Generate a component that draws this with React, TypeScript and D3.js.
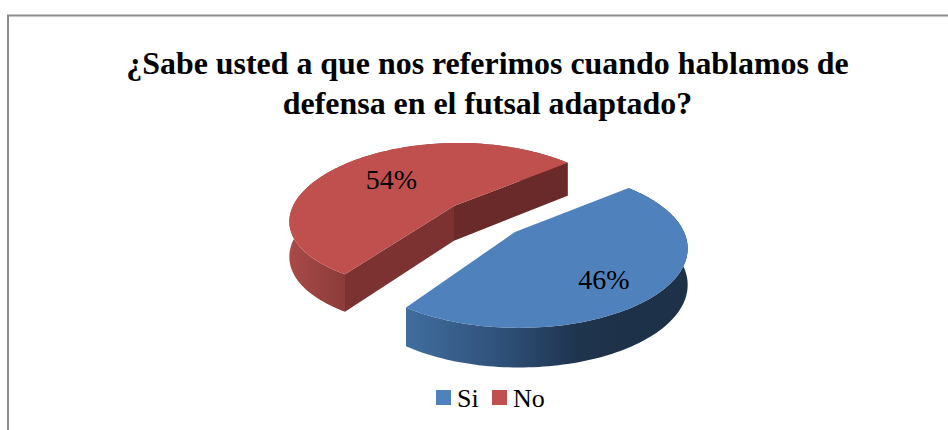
import React from "react";
import * as d3 from "d3";

const categories = ["Si", "No"];
const seriesValues = [46, 54];
const titleLines = [
  "¿Sabe usted a que nos referimos cuando hablamos de",
  "defensa en el futsal adaptado?",
];

const W = 948;
const H = 430;
const A = 165;
const K = 0.2075;
const SKEW = 4;
const START = (49 * Math.PI) / 180;
const apexes: [number, number][] = [[515, 232], [454, 206]];
const verticalRadius = [76, 72.6];
const verticalK = [0.2075, 0.152];
const labelRadius = [0.64, 0.57];
const labelBaseline = [21, 9];
const serif = "'Liberation Serif', serif";

const topColors = ["#4f81bd", "#c0504d"];

const project = (i: number, r: number, theta: number): [number, number] => {
  const apex = apexes[i];
  const u = r * Math.sin(theta);
  const v = r * Math.cos(theta);
  const s = 1 / (1 + K * v);
  const sy = 1 / (1 + verticalK[i] * v);
  return [apex[0] + A * u * s + SKEW * r, apex[1] - verticalRadius[i] * v * sy];
};
const depth = (y: number) => 33 + ((y - 163) * 6) / 150;
const drop = (p: [number, number]): [number, number] => [p[0], p[1] + depth(p[1])];

const line = d3.line<[number, number]>();
const pie = d3
  .pie<number>()
  .sort(null)
  .startAngle(START)
  .endAngle(START + 2 * Math.PI);

export default function App() {
  const arcs = pie(seriesValues);
  const colorScale = d3.scaleOrdinal<string, string>().domain(categories).range(topColors);
  const legendX = d3.scaleOrdinal<string, number>().domain(categories).range([436, 492]);

  return (
    <svg
      width={W}
      height={H}
      viewBox={`0 0 ${W} ${H}`}
      style={{ position: "absolute", left: 0, top: 0, background: "#fff" }}
    >
      <defs>
        <linearGradient id="wall0" gradientUnits="userSpaceOnUse" x1={406} x2={620} y1={0} y2={0}>
          <stop offset="0" stopColor="#406ea0" />
          <stop offset="0.45" stopColor="#2f5078" />
          <stop offset="0.8" stopColor="#1f344e" />
          <stop offset="1" stopColor="#1d3148" />
        </linearGradient>
        <linearGradient id="wall1" gradientUnits="userSpaceOnUse" x1={291} x2={347} y1={0} y2={0}>
          <stop offset="0" stopColor="#a84a47" />
          <stop offset="1" stopColor="#8a3b39" />
        </linearGradient>
      </defs>

      <path d={`M8,430V15.5H${W}`} fill="none" stroke="#8c8c8c" strokeWidth={2} />

      {titleLines.map((t, i) => (
        <text
          key={t}
          x={487.5}
          y={74 + i * 40}
          textAnchor="middle"
          fontFamily={serif}
          fontWeight="bold"
          fontSize={31.9}
          fill="#000"
        >
          {t}
        </text>
      ))}

      {arcs.map((a, i) => {
        const apex = apexes[i];
        const thetas = d3.range(0, 121).map((k) => a.startAngle + ((a.endAngle - a.startAngle) * k) / 120);
        const rim = thetas.map((t) => project(i, 1, t));
        const first = rim[0];
        const last = rim[rim.length - 1];
        const wall = [...rim, ...rim.map(drop).reverse()];
        const faceA = [apex, first, drop(first), drop(apex)];
        const faceB = [apex, last, drop(last), drop(apex)];
        const topFace = [apex, ...rim];
        const mid = (a.startAngle + a.endAngle) / 2;
        const lp = project(i, labelRadius[i], mid);
        return (
          <g key={categories[i]}>
            <path d={line(wall) + "Z"} fill={`url(#wall${i})`} />
            {i === 1 && <path d={line(faceB) + "Z"} fill="#692a29" />}
            {i === 1 && <path d={line(faceA) + "Z"} fill="#7b3230" />}
            <path d={line(topFace) + "Z"} fill={colorScale(categories[i])} />
            <text
              x={lp[0]}
              y={lp[1] + labelBaseline[i]}
              textAnchor="middle"
              fontFamily={serif}
              fontSize={28}
              fill="#000"
            >
              {`${d3.format(".0f")(a.data)}%`}
            </text>
          </g>
        );
      })}

      {categories.map((c) => (
        <g key={c}>
          <rect x={legendX(c)} y={390} width={15} height={15} fill={colorScale(c)} />
          <text x={legendX(c) + 21} y={407} fontFamily={serif} fontSize={26} fill="#000">
            {c}
          </text>
        </g>
      ))}
    </svg>
  );
}
